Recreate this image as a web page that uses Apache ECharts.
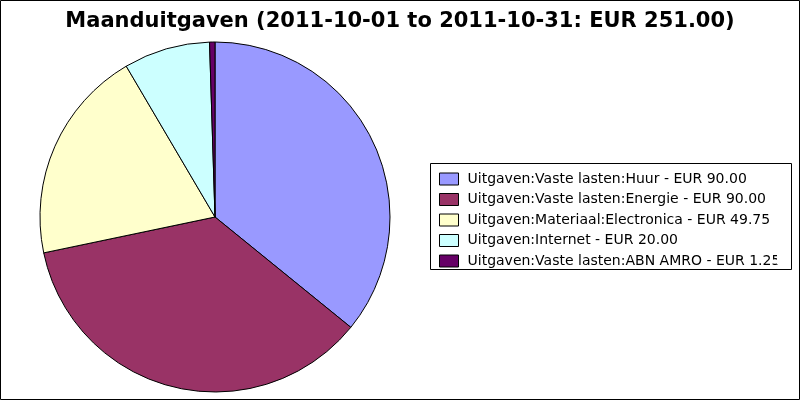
<!DOCTYPE html>
<html><head><meta charset="utf-8">
<script src="https://cdn.jsdelivr.net/npm/echarts@6/dist/echarts.min.js"></script>
<style>html,body{margin:0;padding:0;background:#fff}#c{width:800px;height:400px}</style>
</head><body><div id="c"></div>
<script>
const titleText = 'Maanduitgaven (2011-10-01 to 2011-10-31: EUR 251.00)';
const categories = ['Uitgaven:Vaste lasten:Huur', 'Uitgaven:Vaste lasten:Energie', 'Uitgaven:Materiaal:Electronica', 'Uitgaven:Internet', 'Uitgaven:Vaste lasten:ABN AMRO'];
const values = [90.00, 90.00, 49.75, 20.00, 1.25];
const colors = ['#9999ff', '#993366', '#ffffcc', '#ccffff', '#660066'];

const labels = categories.map((c, i) => c + ' - EUR ' + values[i].toFixed(2));
const chart = echarts.init(document.getElementById('c'), null, {renderer: 'canvas'});
chart.setOption({
  animation: false,
  color: colors,
  title: {
    text: titleText, left: 'center', top: 6,
    textStyle: {fontFamily: 'DejaVu Sans', fontWeight: 'bold', fontSize: 21, color: '#000'}
  },
  legend: {
    orient: 'vertical', left: 434, top: 167,
    itemWidth: 19, itemHeight: 12, itemGap: 6.5,
    icon: 'rect',
    itemStyle: {borderColor: '#000', borderWidth: 1},
    textStyle: {fontFamily: 'DejaVu Sans', fontSize: 14, color: '#000', lineHeight: 12, padding: [0, 0, 0, 4]},
    selectedMode: false,
    data: labels
  },
  graphic: [
    {type: 'rect', z: 100, shape: {x: 777, y: 244, width: 14, height: 20}, style: {fill: '#fff'}},
    {type: 'rect', z: 100, shape: {x: 792, y: 160, width: 7, height: 110}, style: {fill: '#fff'}},
    {type: 'rect', z: 101, shape: {x: 430.5, y: 163.5, width: 361, height: 106}, style: {fill: 'none', stroke: '#000', lineWidth: 1}},
    {type: 'rect', z: 101, shape: {x: 0.5, y: 0.5, width: 799, height: 399}, style: {fill: 'none', stroke: '#000', lineWidth: 1}}
  ],
  series: [{
    type: 'pie',
    center: [215, 217], radius: 175,
    startAngle: 90, clockwise: true,
    label: {show: false}, labelLine: {show: false},
    emphasis: {disabled: true},
    itemStyle: {borderColor: '#000', borderWidth: 1},
    data: labels.map((l, i) => ({name: l, value: values[i]}))
  }]
});
</script></body></html>
